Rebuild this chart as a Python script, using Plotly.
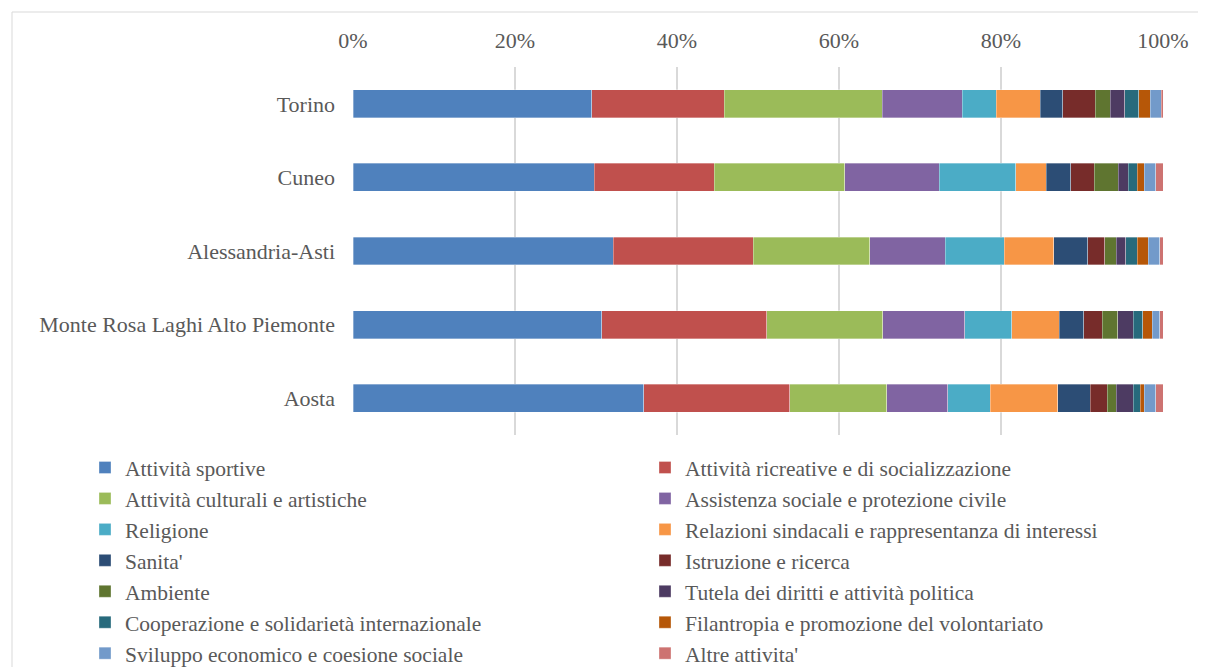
import plotly.graph_objects as go

regions = ['Torino', 'Cuneo', 'Alessandria-Asti', 'Monte Rosa Laghi Alto Piemonte', 'Aosta']

sectors = [
    'Attività sportive',
    'Attività ricreative e di socializzazione',
    'Attività culturali e artistiche',
    'Assistenza sociale e protezione civile',
    'Religione',
    'Relazioni sindacali e rappresentanza di interessi',
    "Sanita'",
    'Istruzione e ricerca',
    'Ambiente',
    'Tutela dei diritti e attività politica',
    'Cooperazione e solidarietà internazionale',
    'Filantropia e promozione del volontariato',
    'Sviluppo economico e coesione sociale',
    "Altre attivita'",
]

colors = ['#4F81BD', '#C0504D', '#9BBB59', '#8064A2', '#4BACC6', '#F79646', '#2C4D75',
          '#772C2A', '#5F7530', '#4D3B62', '#276A7C', '#B65708', '#729ACA', '#CD7371']

# share (%) of each sector, one list per region (order of regions above)
torino = [29.5, 16.4, 19.5, 9.9, 4.2, 5.4, 2.8, 4.0, 1.9, 1.8, 1.7, 1.4, 1.4, 0.2]
cuneo = [29.8, 14.8, 16.1, 11.7, 9.4, 3.8, 3.0, 2.9, 3.0, 1.2, 1.1, 0.9, 1.4, 0.9]
alessandria = [32.1, 17.3, 14.4, 9.3, 7.3, 6.1, 4.2, 2.1, 1.4, 1.2, 1.4, 1.4, 1.4, 0.4]
monte_rosa = [30.7, 20.4, 14.3, 10.1, 5.8, 5.9, 3.0, 2.3, 1.9, 1.9, 1.2, 1.2, 0.9, 0.4]
aosta = [35.9, 18.0, 12.0, 7.5, 5.3, 8.3, 4.0, 2.1, 1.1, 2.1, 0.9, 0.5, 1.4, 0.9]

rows = [torino, cuneo, alessandria, monte_rosa, aosta]

# the page body has an 8px margin, so the figure is sized/positioned to fill the window
OFF = 8
W, H = 1206 - OFF, 667 - OFF
L, R, T, B = 353 - OFF, 43, 67 - OFF, 232
pw, ph = W - L - R, H - T - B

def px_x(x):
    return (x - OFF - L) / pw

def px_y(y):
    return (H - B - (y - OFF)) / ph

fig = go.Figure()
for i, name in enumerate(sectors):
    fig.add_trace(go.Bar(
        y=regions,
        x=[r[i] for r in rows],
        name=name,
        orientation='h',
        marker=dict(color=colors[i], line=dict(color='rgba(255,255,255,0.55)', width=0.6)),
    ))

serif = 'Liberation Serif, Times New Roman, serif'
tick_font = dict(family=serif, size=22, color='#595959')
legend_font = dict(family=serif, size=21.5, color='#595959')

fig.update_layout(
    width=W, height=H,
    barmode='stack', barnorm='percent', bargap=0.62,
    plot_bgcolor='white', paper_bgcolor='white',
    margin=dict(l=L, r=R, t=T, b=B, autoexpand=False),
    font=tick_font,
    xaxis=dict(side='top', range=[0, 100], dtick=20, ticksuffix='%',
               showgrid=True, gridcolor='#D9D9D9', gridwidth=1.5,
               zeroline=False, showline=False, ticks='', ticklabelstandoff=14,
               tickfont=tick_font),
    yaxis=dict(categoryorder='array', categoryarray=regions, autorange='reversed',
               showgrid=False, zeroline=False, showline=False, ticks='',
               ticklabelstandoff=17, tickfont=tick_font),
    legend=dict(orientation='h', x=px_x(85), xanchor='left',
                y=px_y(447), yanchor='top',
                entrywidth=515, entrywidthmode='pixels', traceorder='normal',
                font=legend_font, itemwidth=30, bgcolor='rgba(0,0,0,0)', maxheight=300),
    shapes=[dict(type='rect', xref='paper', yref='paper',
                 x0=px_x(12), x1=px_x(1205), y0=px_y(12), y1=px_y(700),
                 line=dict(color='#D9D9D9', width=1), layer='below')],
)

fig.write_html('out.html')
